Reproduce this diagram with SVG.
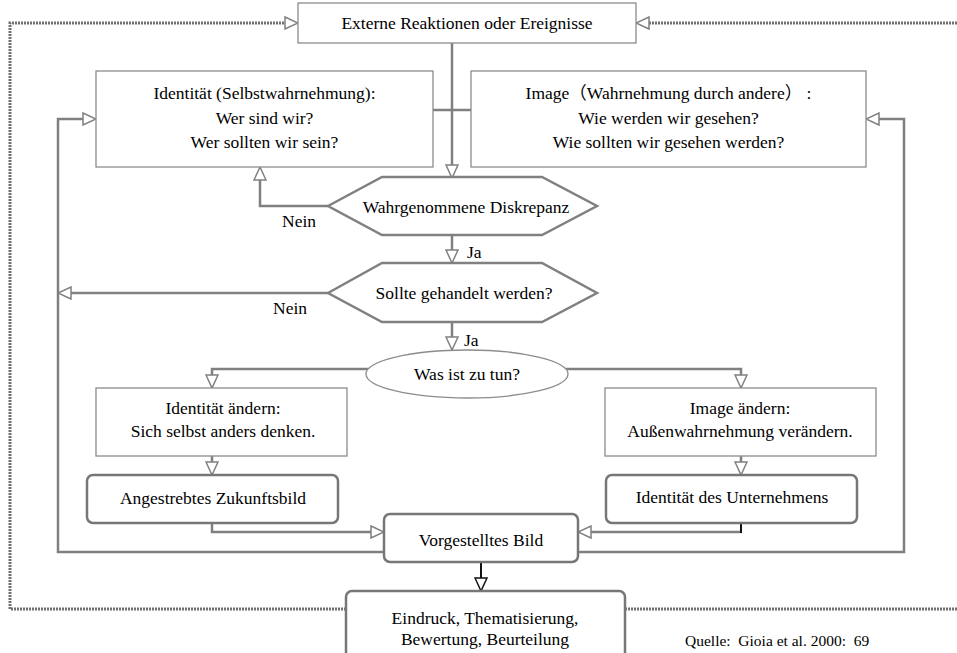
<svg xmlns="http://www.w3.org/2000/svg" width="957" height="653" viewBox="0 0 957 653">
  <defs>
    <style>
      text { font-family: "Liberation Serif", "DejaVu Serif", serif; font-size: 17.5px; fill: #000; }
      .cjk { font-family: "Liberation Serif", "Noto Sans CJK SC", serif; }
      .c { text-anchor: middle; }
      .box { fill: #fff; stroke: #8c8c8c; stroke-width: 1.3; }
      .rbox { fill: #fff; stroke: #777; stroke-width: 2.5; }
      .hex { fill: #fff; stroke: #808080; stroke-width: 2.5; }
      .ell { fill: #fff; stroke: #8c8c8c; stroke-width: 1.3; }
      .ln { fill: none; stroke: #808080; stroke-width: 2.5; }
      .lnk { fill: none; stroke: #111; stroke-width: 2; }
      .dot { fill: none; stroke: #707070; stroke-width: 3; stroke-dasharray: 2 1; }
      .src { font-size: 15.5px; }
    </style>
    <marker id="arr" viewBox="-1 -1 15 14" markerWidth="15" markerHeight="14" refX="0" refY="6" orient="auto" markerUnits="userSpaceOnUse">
      <path d="M0,0 L13,6 L0,12 Z" fill="#fff" stroke="#808080" stroke-width="1.5"/>
    </marker>
    <marker id="arrK" viewBox="-1 -1 15 14" markerWidth="15" markerHeight="14" refX="0" refY="6" orient="auto" markerUnits="userSpaceOnUse">
      <path d="M0,0 L13,6 L0,12 Z" fill="#fff" stroke="#111" stroke-width="1.5"/>
    </marker>
  </defs>

  <rect width="957" height="653" fill="#fff"/>

  <!-- connectors -->
  <g id="connectors">
    <!-- outer feedback loop (dotted) -->
    <path class="dot" d="M346,609 H10 V23 H285" marker-end="url(#arr)"/>
    <path class="dot" d="M957,23 H649" marker-end="url(#arr)"/>
    <path class="dot" d="M625,609 H957"/>
    <!-- inner loops from the presented image -->
    <path class="ln" d="M384,552 H58 V119 H83" marker-end="url(#arr)"/>
    <path class="ln" d="M578,552 H904 V119 H879" marker-end="url(#arr)"/>
    <!-- central axis -->
    <path class="ln" d="M452,43 V165" marker-end="url(#arr)"/>
    <path class="ln" d="M433,110 H471"/>
    <path class="ln" d="M328,206 H260 V180" marker-end="url(#arr)"/>
    <path class="ln" d="M452,235 V250" marker-end="url(#arr)"/>
    <path class="ln" d="M328,293 H71" marker-end="url(#arr)"/>
    <path class="ln" d="M452,322 V337" marker-end="url(#arr)"/>
    <!-- branches of the decision -->
    <path class="ln" d="M368,369 H212 V375" marker-end="url(#arr)"/>
    <path class="ln" d="M566,369 H741 V375" marker-end="url(#arr)"/>
    <path class="ln" d="M212,456 V462" marker-end="url(#arr)"/>
    <path class="ln" d="M741,456 V462" marker-end="url(#arr)"/>
    <path class="ln" d="M212,523 V532 H371" marker-end="url(#arr)"/>
    <path class="ln" d="M741,532 H591" marker-end="url(#arr)"/>
    <path class="lnk" d="M741,522 V533"/>
    <path class="lnk" d="M481,562 V578" marker-end="url(#arrK)"/>
  </g>

  <g id="externe">
    <rect class="box" x="298" y="3" width="338" height="40"/>
    <text class="c" x="467" y="29">Externe Reaktionen oder Ereignisse</text>
  </g>

  <g id="identitaet">
    <rect class="box" x="96" y="71" width="337" height="96"/>
    <text class="c" x="264.5" y="99">Identität (Selbstwahrnehmung):</text>
    <text class="c" x="264.5" y="123.5">Wer sind wir?</text>
    <text class="c" x="264.5" y="148">Wer sollten wir sein?</text>
  </g>

  <g id="image">
    <rect class="box" x="471" y="71" width="395" height="96"/>
    <text class="c cjk" x="668.5" y="99">Image（Wahrnehmung durch andere） :</text>
    <text class="c" x="668.5" y="123.5">Wie werden wir gesehen?</text>
    <text class="c" x="668.5" y="148">Wie sollten wir gesehen werden?</text>
  </g>

  <g id="diskrepanz">
    <polygon class="hex" points="328,206 382,177 542,177 597,206 542,235 382,235"/>
    <text class="c" x="466" y="213">Wahrgenommene Diskrepanz</text>
  </g>

  <g id="handeln">
    <polygon class="hex" points="328,293 382,263 542,263 597,293 542,322 382,322"/>
    <text class="c" x="464" y="299">Sollte gehandelt werden?</text>
  </g>

  <g id="labels">
    <text x="282" y="227">Nein</text>
    <text x="467" y="258">Ja</text>
    <text x="273" y="314">Nein</text>
    <text x="464" y="346">Ja</text>
  </g>

  <g id="tun">
    <ellipse class="ell" cx="467" cy="374" rx="101" ry="24"/>
    <text class="c" x="467" y="380">Was ist zu tun?</text>
  </g>

  <g id="identitaet-aendern">
    <rect class="box" x="96" y="388" width="251" height="68"/>
    <text class="c" x="223" y="414">Identität ändern:</text>
    <text class="c" x="223" y="437">Sich selbst anders denken.</text>
  </g>

  <g id="image-aendern">
    <rect class="box" x="605" y="388" width="271" height="68"/>
    <text class="c" x="740" y="414">Image ändern:</text>
    <text class="c" x="740" y="437">Außenwahrnehmung verändern.</text>
  </g>

  <g id="zukunftsbild">
    <rect class="rbox" x="87" y="475" width="251" height="48" rx="6"/>
    <text class="c" x="213" y="504">Angestrebtes Zukunftsbild</text>
  </g>

  <g id="unternehmen">
    <rect class="rbox" x="606" y="475" width="251" height="48" rx="6"/>
    <text class="c" x="732" y="503">Identität des Unternehmens</text>
  </g>

  <g id="vorgestellt">
    <rect class="rbox" x="384" y="514" width="194" height="48" rx="6"/>
    <text class="c" x="481" y="546">Vorgestelltes Bild</text>
  </g>

  <g id="eindruck">
    <rect class="rbox" x="346" y="591" width="279" height="80" rx="6"/>
    <text class="c" x="485" y="624">Eindruck, Thematisierung,</text>
    <text class="c" x="485" y="645">Bewertung, Beurteilung</text>
  </g>

  <g id="quelle">
    <text class="src" x="685" y="646">Quelle:&#8194;Gioia et al. 2000:&#8194;69</text>
  </g>
</svg>
